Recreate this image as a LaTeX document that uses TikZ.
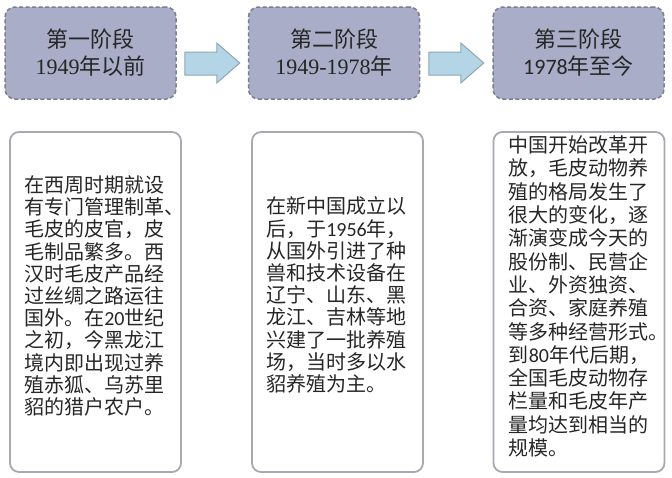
\documentclass[tikz,border=0pt]{standalone}
\usepackage{fontspec}
\usepackage{tikz}
\usetikzlibrary{positioning,calc}
\newfontfamily\cjk{Noto Sans CJK SC}
\newfontfamily\numserif{Liberation Serif}
\newfontfamily\numsans{Carlito}
\definecolor{stagefill}{RGB}{169,173,199}
\definecolor{stageline}{RGB}{122,126,142}
\definecolor{arrowfill}{RGB}{180,213,230}
\definecolor{arrowline}{RGB}{140,166,182}
\definecolor{descline}{RGB}{168,168,176}
\definecolor{inktext}{RGB}{38,38,38}

\begin{document}
\begin{tikzpicture}[x=1pt,y=-1pt,
  stagebox/.style={fill=stagefill, draw=stageline, line width=1.5pt,
    dash pattern=on 4pt off 2.5pt, rounded corners=10pt,
    minimum width=171pt, minimum height=92pt, align=center,
    text=inktext, font=\cjk\fontsize{22}{27}\selectfont},
  descbox/.style={draw=descline, line width=1.8pt, rounded corners=9pt,
    minimum width=171pt, minimum height=340pt},
  desctext/.style={anchor=west, align=left, inner sep=0pt, text=inktext,
    font=\cjk\fontsize{20}{22.2}\selectfont},
  flowarrow/.style={fill=arrowfill, draw=arrowline, line width=1pt}]
\useasboundingbox (0,0) rectangle (672,477);

% stages
\node [stagebox] (s1) at (90.5,53) {第一阶段\\{\numserif 1949}年以前};
\node [stagebox] (s2) at (334,53) {第二阶段\\{\numserif 1949-1978}年};
\node [stagebox] (s3) at (578.5,53) {第三阶段\\{\numsans 1978}年至今};

\foreach \a/\b in {s1/s2,s2/s3}
  \draw [flowarrow] ($(\a.east)!0.5!(\b.west)+(-27.5,-1)$) -- ++(32,0)
    -- ++(0,-9) -- ++(23,20) -- ++(-23,20) -- ++(0,-8) -- ++(-32,0) -- cycle;

% descriptions
\node [descbox] (d1) at (95.5,302) {};
\node [descbox] (d2) at (337.5,302) {};
\node [descbox] (d3) at (579,302) {};

\node [desctext] (t1) at ($(d1.west)+(15,-6)$) {在西周时期就设\\有专门管理制革、\\毛皮的皮官，皮\\毛制品繁多。西\\汉时毛皮产品经\\过丝绸之路运往\\国外。在{\numsans 20}世纪\\之初，今黑龙江\\境内即出现过养\\殖赤狐、乌苏里\\貂的猎户农户。};
\node [desctext] (t2) at ($(d2.west)+(15,-7)$) {在新中国成立以\\后，于{\numsans 1956}年，\\从国外引进了种\\兽和技术设备在\\辽宁、山东、黑\\龙江、吉林等地\\兴建了一批养殖\\场，当时多以水\\貂养殖为主。};
\node [desctext, font=\cjk\fontsize{20}{23.3}\selectfont] (t3) at ($(d3.west)+(16,-5.5)$) {中国开始改革开\\放，毛皮动物养\\殖的格局发生了\\很大的变化，逐\\渐演变成今天的\\股份制、民营企\\业、外资独资、\\合资、家庭养殖\\等多种经营形式。\\到{\numsans 80}年代后期，\\全国毛皮动物存\\栏量和毛皮年产\\量均达到相当的\\规模。};
\end{tikzpicture}
\end{document}
